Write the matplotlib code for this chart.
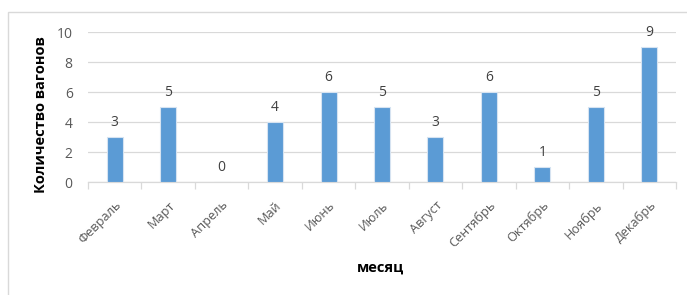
import matplotlib
matplotlib.use("Agg")
import matplotlib.pyplot as plt
from matplotlib.patches import Rectangle

months = ["Февраль", "Март", "Апрель", "Май", "Июнь", "Июль", "Август",
          "Сентябрь", "Октябрь", "Ноябрь", "Декабрь"]
values = [3, 5, 0, 4, 6, 5, 3, 6, 1, 5, 9]
yticks = [0, 2, 4, 6, 8, 10]

plt.rcParams['font.family'] = ['Open Sans', 'DejaVu Sans']

W, H = 687, 295
fig = plt.figure(figsize=(W/100, H/100), dpi=100)
# outer chart frame (cropped right/bottom)
fig.patches.append(Rectangle((8/W, -0.1), 1.2, (H-12)/H + 0.1, transform=fig.transFigure,
                             fill=False, edgecolor='#d9d9d9', linewidth=1.0))
ax = fig.add_axes([88/W, 1-182/H, (676-88)/W, (182-32)/H])

x = list(range(len(months)))
bars = ax.bar(x, values, width=0.3, color='#5b9bd5', edgecolor='#d6e3f1', linewidth=0.8, zorder=3)
for xi, v in zip(x, values):
    ax.annotate(str(v), (xi, v), xytext=(0, 5), textcoords='offset points',
                ha='center', va='bottom', fontsize=10, color='#404040')

ax.set_xlim(-0.5, len(months)-0.5)
ax.set_ylim(0, 10)
ax.set_yticks(yticks)
ax.set_yticklabels([str(t) for t in yticks], fontsize=10, color='#595959')
ax.yaxis.grid(True, color='#d9d9d9', linewidth=0.9, zorder=0)
ax.tick_params(axis='y', length=0, pad=11)
for s in ['top', 'right', 'left']:
    ax.spines[s].set_visible(False)
ax.spines['bottom'].set_color('#d9d9d9')
ax.spines['bottom'].set_linewidth(0.9)

ax.set_xticks([i - 0.5 for i in range(len(months)+1)], minor=False)
ax.set_xticklabels([])
ax.tick_params(axis='x', which='major', length=5, color='#d9d9d9', width=0.9)
ax.set_xticks(x, minor=True)
ax.set_xticklabels(months, minor=True, rotation=45, ha='right', rotation_mode='anchor',
                   fontsize=9.2, color='#595959')
ax.tick_params(axis='x', which='minor', length=0, pad=12)

fig.text(41/W, 1-115/H, "Количество вагонов", rotation=90, ha='center', va='center',
         fontsize=10.5, fontweight='bold', color='black')
fig.text(381/W, 1-268/H, "месяц", ha='center', va='center',
         fontsize=10.5, fontweight='bold', color='black')

fig.savefig("out.png", dpi=100)
